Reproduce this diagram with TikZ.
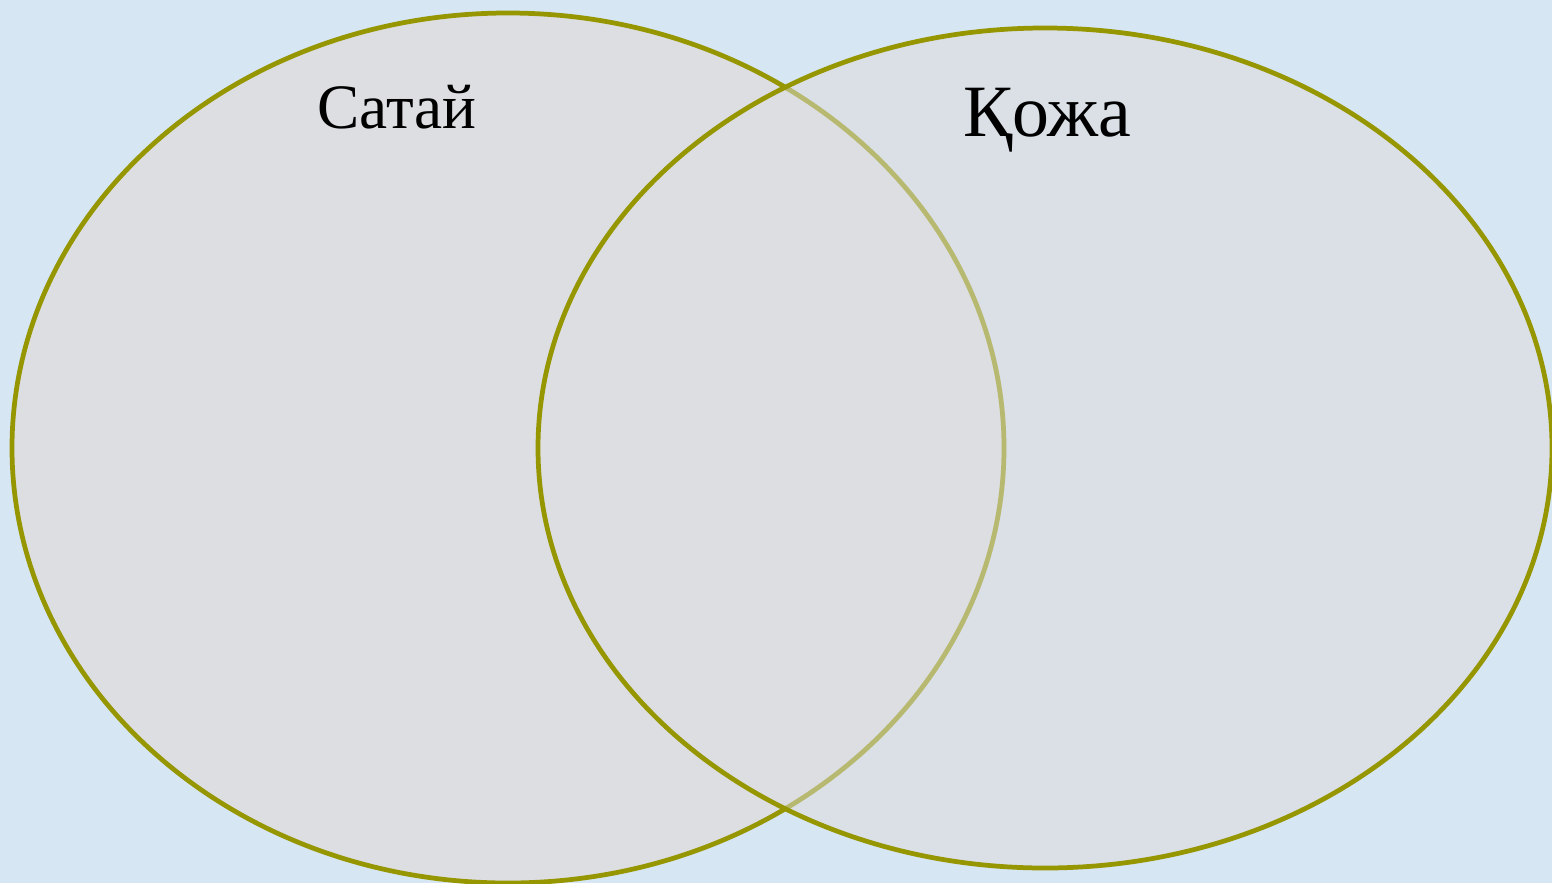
\documentclass[tikz,border=0pt]{standalone}
\usepackage{fontspec}
\setmainfont{Liberation Serif}
\usepackage{tikz}
\usetikzlibrary{positioning}
\definecolor{vnbg}{RGB}{214,230,243}
\definecolor{vnfill}{RGB}{220,222,225}
\definecolor{vnline}{RGB}{150,150,0}
\tikzset{
  vnset/.style={draw=vnline, line width=2.7pt, fill=vnfill},
  vnlabel/.style={anchor=base, inner sep=0pt, text=black}
}
\begin{document}
\begin{tikzpicture}[x=0.02cm, y=-0.02cm]
  % Background
  \fill[vnbg] (0,0) rectangle (1552,883);
  \useasboundingbox (0,0) rectangle (1552,883);

  % Sets
  \coordinate (left) at (508,448);
  \coordinate (right) at (1045,448);
  \draw[vnset] (left) ellipse [x radius=496, y radius=435];
  \draw[vnset, fill opacity=0.75, draw opacity=1] (right) ellipse [x radius=507, y radius=420];
  \begin{scope}
    \clip (right) ellipse [x radius=507, y radius=420];
    \draw[vnline, line width=2.7pt, opacity=0.33] (left) ellipse [x radius=496, y radius=435];
  \end{scope}

  % Labels
  \node[vnlabel, font=\fontsize{36}{42}\selectfont] (satay) at (397,128) {Сатай};
  \node[vnlabel, font=\fontsize{42}{48}\selectfont] (kozha) at (1047,136) {Қожа};
\end{tikzpicture}
\end{document}
